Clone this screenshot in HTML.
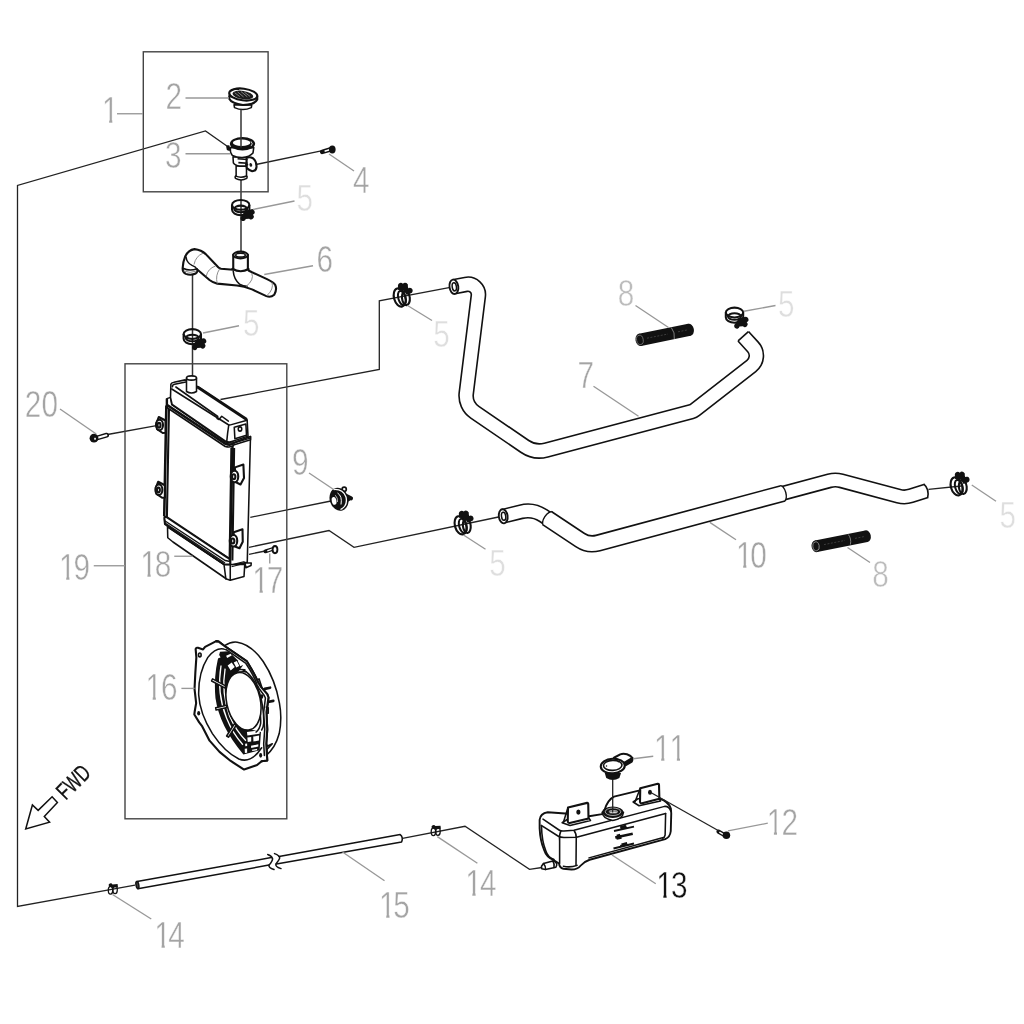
<!DOCTYPE html>
<html lang="en"><head><meta charset="utf-8"><title>Cooling system parts diagram</title>
<style>
html,body{margin:0;padding:0;background:#fff;}
body{width:1024px;height:1024px;overflow:hidden;}
svg{display:block;}
.ln{fill:none;stroke:#222;stroke-width:1.3;}
.ax{fill:none;stroke:#333;stroke-width:1.5;}
.gl{fill:none;stroke:#989898;stroke-width:1.35;}
.gl2{fill:none;stroke:#cfcfcf;stroke-width:1.1;}
.box{fill:none;stroke:#444;stroke-width:1.4;}
.p{fill:#fff;stroke:#111;stroke-width:1.55;stroke-linejoin:round;stroke-linecap:round;vector-effect:non-scaling-stroke;}
.pn{fill:none;stroke:#111;stroke-width:1.55;stroke-linejoin:round;stroke-linecap:round;vector-effect:non-scaling-stroke;}
.pt{fill:none;stroke:#111;stroke-width:0.9;stroke-linejoin:round;stroke-linecap:round;vector-effect:non-scaling-stroke;}
.pk{fill:none;stroke:#111;stroke-width:2.1;stroke-linejoin:round;stroke-linecap:round;vector-effect:non-scaling-stroke;}
.pkf{fill:#fff;stroke:#111;stroke-width:2.1;stroke-linejoin:round;stroke-linecap:round;vector-effect:non-scaling-stroke;}
.k{fill:#111;stroke:none;}
.w{fill:#fff;stroke:none;}
text{font-family:"Liberation Sans",sans-serif;}
.lb{font-size:36.4px;fill:#a4a4a4;stroke:#fff;stroke-width:0.5px;}
.lb5{font-size:36.4px;fill:#dedede;stroke:#fff;stroke-width:0.5px;}
.lb8{font-size:36.4px;fill:#bcbcbc;stroke:#fff;stroke-width:0.5px;}
.lbk{font-size:36.4px;fill:#111;stroke:#fff;stroke-width:0.4px;}
</style></head><body>
<svg width="1024" height="1024" viewBox="0 0 1024 1024">
<rect width="1024" height="1024" fill="#fff"/>
<!-- lines -->
<g>
<!-- long overflow line -->
<path class="ln" d="M229,147.5 L205.5,131 L17.5,185.5 L17.5,906.5 L135,885.2"/>
<path class="ln" d="M402.5,838.3 L465,826.3 L529.5,869.3 L542,867.5"/>
<!-- vertical axis through cap / neck / clamp / hose 6 -->
<path class="ax" d="M241,179.5 L241,251"/>
<path class="ax" d="M192.5,274.5 L192.5,378"/>
<!-- bolt 4 -->
<path class="ln" d="M256,164.5 L322.5,150.6"/>
<!-- radiator to hose 7 -->
<path class="ln" d="M220.5,399.5 L379.3,369.5 L379.3,300.8 L449,287.6"/>
<!-- bolt 20 -->
<path class="ln" d="M107.5,434.5 L156.5,425.7"/>
<!-- grommet 9 -->
<path class="ln" d="M250.3,517.3 L331,501"/>
<!-- radiator to hose 10 -->
<path class="ln" d="M249,547.3 L329,530.5 L354,547.3 L498.5,517"/>
<!-- bolt 17 -->
<path class="ln" d="M249,554.3 L265.3,551"/>
<!-- hose 10 to right clamp -->
<path class="ln" d="M928.5,489.4 L961.3,486"/>
<!-- tank cap -->
</g>
<!-- boxes -->
<g>
<rect class="box" x="143.3" y="51.8" width="124.8" height="140"/>
<rect class="box" x="125" y="363.8" width="161.8" height="455"/>
</g>
<!-- hoses -->
<g fill="none" stroke-linejoin="round">
<!-- hose 7 -->
<path d="M453.75,286.75 L465.88,284.38 A10.5,10.5 0 0 1 478.32,295.98 L466.26,393.21 A20,20 0 0 0 474.81,412.18 L524.78,446.38 A26,26 0 0 0 546.11,450.06 L691.52,411.62 A10,10 0 0 0 695.12,409.84 L751.35,365.93 A13,13 0 0 0 752.97,346.93 L743.25,336.25" stroke="#111" stroke-width="15.8"/>
<path d="M453.75,286.75 L465.88,284.38 A10.5,10.5 0 0 1 478.32,295.98 L466.26,393.21 A20,20 0 0 0 474.81,412.18 L524.78,446.38 A26,26 0 0 0 546.11,450.06 L691.52,411.62 A10,10 0 0 0 695.12,409.84 L751.35,365.93 A13,13 0 0 0 752.97,346.93 L743.25,336.25" stroke="#fff" stroke-width="12.600000000000001"/>
<path d="M738.1,340.9 L748.4,331.6" stroke="#111" stroke-width="1.6"/>
<ellipse cx="453.9" cy="286.8" rx="4.4" ry="7.2" transform="rotate(-8 453.9 286.8)" fill="#fff" stroke="#111" stroke-width="1.9"/>
<ellipse cx="454.3" cy="286.8" rx="2.1" ry="4.1" transform="rotate(-8 454.3 286.8)" fill="#fff" stroke="#111" stroke-width="1.5"/>
<!-- hose 10 -->
<path d="M503.00,516.25 L520.93,511.78 A28,28 0 0 1 543.18,515.61 L580.12,540.11 A22,22 0 0 0 597.99,543.02 L829.34,480.80 A23,23 0 0 1 841.26,480.80 L898.55,496.13 A22,22 0 0 0 910.96,495.82 L926.00,491.00" stroke="#111" stroke-width="15.2"/>
<path d="M503.00,516.25 L520.93,511.78 A28,28 0 0 1 543.18,515.61 L580.12,540.11 A22,22 0 0 0 597.99,543.02 L829.34,480.80 A23,23 0 0 1 841.26,480.80 L898.55,496.13 A22,22 0 0 0 910.96,495.82 L926.00,491.00 l1.2,-0.4" stroke="#fff" stroke-width="12.0"/>
<path d="M923.6,483.9 Q929.6,489 927.6,498" stroke="#111" stroke-width="1.6"/>
<path d="M547.00,518.10 L580.12,540.10 A22,22 0 0 0 598.00,543.02 L783.00,493.30" stroke="#111" stroke-width="17.4"/>
<path d="M547.00,518.10 L580.12,540.10 A22,22 0 0 0 598.00,543.02 L783.00,493.30" stroke="#fff" stroke-width="14.2"/>
<g transform="translate(547.6,518.5) rotate(33.5)"><path d="M0.3,-7.9 A3.6,7.9 0 0 0 0.3,7.9" fill="#fff" stroke="#111" stroke-width="1.4"/></g>
<g transform="translate(782.6,493.4) rotate(-15)"><path d="M-0.3,-7.9 A3.6,7.9 0 0 1 -0.3,7.9" fill="#fff" stroke="#111" stroke-width="1.4"/></g>
<ellipse cx="503.2" cy="516.3" rx="4.4" ry="7.1" transform="rotate(-8 503.2 516.3)" fill="#fff" stroke="#111" stroke-width="1.9"/>
<ellipse cx="503.6" cy="516.3" rx="2.1" ry="4.0" transform="rotate(-8 503.6 516.3)" fill="#fff" stroke="#111" stroke-width="1.5"/>
</g>
<!-- clamps -->
<defs>
<g id="clampA">
<ellipse cx="0" cy="-2.5" rx="8.7" ry="4.9" fill="none" stroke="#111" stroke-width="2.05"/>
<ellipse cx="0" cy="1.5" rx="6.5" ry="3.3" fill="none" stroke="#111" stroke-width="2.05"/>
<path d="M-8.7,-2.5 L-8.7,2.2 A8.7,5.6 0 0 0 8.7,2.2 L8.7,-2.5" fill="none" stroke="#111" stroke-width="2.05"/>
<path d="M4.5,3 L10,2 A2.8,2.8 0 1 1 12.2,7.3 A2.5,2.5 0 1 1 8.5,11.3 L5,11.5 A2.7,2.7 0 1 1 0.5,9 Z" fill="#111"/>
</g>
<g id="clampB">
<ellipse cx="0" cy="0" rx="5.7" ry="9.3" transform="rotate(-16)" fill="none" stroke="#111" stroke-width="2.1"/>
<ellipse cx="2.2" cy="0.6" rx="3.6" ry="7.3" transform="rotate(-16 2.2 0.6)" fill="none" stroke="#111" stroke-width="2"/>
<ellipse cx="6.2" cy="0.5" rx="3.9" ry="7.2" transform="rotate(-6 6.2 0.5)" fill="none" stroke="#111" stroke-width="2.1"/>
<path d="M-1.5,-7.5 L-1.8,-11.8 A2.9,2.9 0 0 1 3.2,-13.7 A2.9,2.9 0 0 1 8.2,-11 L8.6,-9.3 A2.9,2.9 0 1 1 10.8,-4 L7,-2.5 L4,-7 Z" fill="#111"/>
</g>
<g id="clampS">
<ellipse cx="-2.3" cy="0.4" rx="2.2" ry="3.9" fill="none" stroke="#111" stroke-width="1.3"/>
<ellipse cx="2.3" cy="0" rx="2.2" ry="3.9" fill="none" stroke="#111" stroke-width="1.3"/>
<path d="M-3.9,-3.5 A2,2 0 1 1 -0.3,-5.3 L4.8,-5.7 L5.2,-2.6 L-1,-2 Z" fill="#111"/>
</g>
</defs>
<g>
<use href="#clampA" x="240.7" y="207.4"/>
<use href="#clampA" x="192.3" y="336.5"/>
<use href="#clampA" x="734.5" y="315"/>
<use href="#clampB" x="399.7" y="297.5"/>
<use href="#clampB" x="460.6" y="525.3"/>
<use href="#clampB" x="956.6" y="486.4"/>
<use href="#clampS" x="112.8" y="889.8"/>
<use href="#clampS" x="435.7" y="831.4"/>
</g>
<!-- p23 -->
<!-- cap (2): coords in 16x zoom space, origin (216,80) -->
<g transform="translate(216,80) scale(.0625)">
<path class="p" d="M288,395 L296,442 Q430,505 565,442 L572,400 Z"/>
<path class="pkf" d="M212,255 L212,300 Q250,375 430,400 Q620,395 660,312 L660,262 Z"/>
<ellipse class="pkf" cx="436" cy="232" rx="226" ry="94" transform="rotate(7 436 232)"/>
<ellipse cx="430" cy="240" rx="168" ry="66" transform="rotate(9 430 240)" fill="#1c1c1c"/>
<path d="M300,205 L380,265 M345,190 L440,270 M400,185 L500,268 M455,195 L545,262" stroke="#8a8a8a" stroke-width="0.9" fill="none" vector-effect="non-scaling-stroke"/>
<path d="M250,170 Q300,130 360,150" class="pn"/>
</g>
<!-- filler neck (3): coords in 16x zoom space, origin (216,132) -->
<g transform="translate(216,132) scale(.0625)">
<path class="p" d="M322,540 L322,700 Q296,716 312,742 Q400,792 492,742 Q508,716 488,700 L488,545 Z"/>
<path class="pn" d="M318,706 Q400,742 490,704"/>
<path class="p" d="M272,395 L278,495 Q300,535 380,546 L480,546 L500,400 Z"/>
<path class="pkf" d="M488,412 Q540,392 592,420 Q652,470 648,560 Q640,626 580,628 Q530,612 492,575 Z"/>
<path d="M345,428 L505,440 M358,490 L505,500 M470,520 L515,524" stroke="#111" stroke-width="1.7" fill="none" vector-effect="non-scaling-stroke"/>
<ellipse cx="557" cy="526" rx="22" ry="30" transform="rotate(-15 557 526)" fill="#1c1c1c"/>
<path class="p" d="M228,250 Q222,330 262,375 Q330,412 420,410 Q540,396 592,335 L604,250 Z"/>
<path d="M163,235 Q170,205 215,215 L235,290 Q200,310 172,285 Z" fill="#111"/>
<ellipse cx="424" cy="188" rx="202" ry="107" fill="#111"/>
<ellipse cx="410" cy="172" rx="140" ry="52" fill="#fff"/>
<path d="M560,150 Q600,190 560,225" stroke="#fff" stroke-width="0.8" fill="none" vector-effect="non-scaling-stroke"/>
</g>
<path class="ax" d="M241,109.4 L241,147.5"/>
<!-- p6 -->
<!-- T-hose (6): coords in 8x zoom space, origin (172,236) -->
<g transform="translate(172,236) scale(.125)">
<path class="pkf" d="M85,258 Q84,290 110,303 Q150,318 190,300 Q204,290 202,268 L300,352 Q330,375 362,381 L520,396 Q575,402 640,427 L755,481 Q790,494 818,470 Q842,430 826,392 Q815,372 760,345 L640,290 L612,276 L607,262 L607,150 L490,150 L490,270 L392,262 Q378,258 370,250 L270,145 Q235,112 180,105 Q130,112 105,165 Q88,205 85,258 Z"/>
<ellipse class="pkf" cx="548" cy="152" rx="58" ry="27"/>
<ellipse class="pn" cx="548" cy="153" rx="38" ry="15"/>
<path class="pk" d="M483,262 Q548,300 613,264"/>
<path class="pn" d="M490,282 Q495,345 540,385 Q570,402 600,402"/>
<path class="pn" d="M112,168 Q118,215 160,235 Q190,245 202,268"/>
<path class="pn" d="M88,258 Q140,285 200,262"/>
<g fill="none" stroke="#8c8c8c" stroke-width="1" vector-effect="non-scaling-stroke">
<path vector-effect="non-scaling-stroke" d="M248,138 Q190,160 176,228"/>
<path vector-effect="non-scaling-stroke" d="M348,240 Q285,262 274,322"/>
<path vector-effect="non-scaling-stroke" d="M382,262 Q345,315 362,380"/>
<path vector-effect="non-scaling-stroke" d="M638,298 Q660,350 592,404"/>
<path vector-effect="non-scaling-stroke" d="M800,372 Q815,425 762,474"/>
<path vector-effect="non-scaling-stroke" d="M93,280 Q145,302 197,280"/>
</g>
</g>
<!-- radiator -->
<!-- radiator (18): coords in 8x zoom space, origin (144,368) -->
<g transform="translate(144,368) scale(.125)">
<!-- side plate -->
<path class="p" d="M712,600 L852,548 L826,1555 L690,1580 Z"/>
<!-- right mount tabs (behind) -->
<path class="pkf" d="M728,795 L795,772 L800,880 L772,932 L728,910 Z"/>
<path class="pkf" d="M718,1314 L788,1290 L790,1390 L764,1442 L718,1424 Z"/>
<!-- core -->
<path class="p" d="M183,290 L705,630 L690,1530 L165,1190 Z"/>
<path d="M177,300 L160,1185 M200,310 L183,1200" stroke="#111" stroke-width="2.1" fill="none" vector-effect="non-scaling-stroke"/>
<path d="M699,640 L685,1525 M721,640 L707,1540" stroke="#111" stroke-width="2.1" fill="none" vector-effect="non-scaling-stroke"/>
<!-- lower tank -->
<path class="p" d="M188,1268 L190,1358 L232,1392 L660,1688 L690,1698 L800,1668 L806,1572 L690,1572 L640,1570 Z"/>
<path class="pn" d="M190,1272 L640,1572 L655,1688 M690,1572 L690,1698"/>
<path class="p" d="M808,1560 L858,1560 L856,1580 L815,1598 Z"/>
<!-- lower header lip -->
<path class="pkf" d="M163,1205 Q160,1180 185,1195 L665,1515 Q690,1525 690,1545 L690,1572 L645,1572 L168,1250 Z"/>
<path d="M166,1222 L650,1540 L690,1548 M168,1240 L648,1560" stroke="#111" stroke-width="1.4" fill="none" vector-effect="non-scaling-stroke"/>
<path d="M700,1575 L805,1548 M700,1590 L805,1562" stroke="#111" stroke-width="1.2" fill="none" vector-effect="non-scaling-stroke"/>
<!-- upper header lip -->
<path class="p" d="M183,245 L212,235 L222,292 L655,592 L712,602 L852,548 L852,574 L722,614 Q700,640 650,628 L186,318 Z"/>
<path d="M188,298 L652,606 Q690,622 715,604" stroke="#111" stroke-width="2.7" fill="none" stroke-linecap="round" vector-effect="non-scaling-stroke"/>
<path d="M722,600 L850,561" stroke="#111" stroke-width="1.3" fill="none" vector-effect="non-scaling-stroke"/>
<path d="M183,245 L183,318" stroke="#111" stroke-width="2.4" fill="none" vector-effect="non-scaling-stroke"/>
<!-- upper tank -->
<path class="p" d="M215,130 Q218,118 240,114 L330,95 L430,150 L825,415 L832,545 L722,582 Q690,598 655,588 L225,292 L212,235 Z"/>
<path class="pn" d="M222,168 L672,452 Q682,458 692,455 L825,418 M678,456 Q668,520 662,588"/>
<path class="pn" d="M228,150 Q225,135 245,130 L335,112"/>
<path class="pn" d="M255,152 L590,388 L585,404 L600,412 L622,386 L675,425"/>
<path d="M428,152 L822,412" stroke="#111" stroke-width="3" fill="none" vector-effect="non-scaling-stroke"/>
<path class="pn" d="M722,474 L815,448 L820,538 L727,566 Z"/>
<ellipse class="pn" cx="768" cy="488" rx="14" ry="17"/>
<!-- stub -->
<path class="p" d="M340,80 L340,188 Q380,212 420,188 L420,80 Z"/>
<ellipse class="p" cx="380" cy="80" rx="40" ry="17"/>
<!-- left mounts -->
<g id="rmount">
<path class="pkf" d="M118,392 L172,420 L172,518 L150,520 L105,490 L100,440 Z"/>
<ellipse class="pkf" cx="124" cy="456" rx="28" ry="42"/>
<ellipse class="pk" cx="120" cy="458" rx="12" ry="19"/>
</g>
<use href="#rmount" x="-5" y="518" transform="scale(1)"/>
<!-- right mount grommets -->
<ellipse class="pkf" cx="724" cy="868" rx="30" ry="46"/>
<ellipse class="pk" cx="718" cy="870" rx="13" ry="20"/>
<ellipse class="pkf" cx="716" cy="1382" rx="30" ry="46"/>
<ellipse class="pk" cx="710" cy="1384" rx="13" ry="20"/>
</g>
<!-- fan -->
<!-- fan shroud (16): coords in 9.846x zoom space, origin (186,632) -->
<g transform="translate(186,632) scale(.10156)">
<!-- back ring -->
<path class="p" d="M380,135 Q440,92 505,100 Q640,120 760,290 Q880,470 920,700 Q948,850 918,1000 Q880,1140 790,1215 L600,1100 L500,300 Z"/>
<!-- right-hand studs -->
<path d="M775,560 L828,548 M805,690 L860,678" stroke="#111" stroke-width="2.6" fill="none" stroke-linecap="round" vector-effect="non-scaling-stroke"/>
<path class="p" d="M775,1180 L850,1100 L800,1125 L790,1095 Z"/>
<!-- front flange -->
<path class="pkf" d="M95,168 Q100,150 118,156 L168,172 L188,146 L298,90 L322,95 L395,150 L600,290 Q680,420 712,500 L742,545 L800,612 L812,645 L792,790 L800,960 L790,1100 L800,1265 L745,1272 L700,1310 L572,1354 L440,1270 L330,1180 L232,1070 L160,930 L130,890 L82,812 L86,780 L100,700 L84,560 L92,400 L102,250 Z"/>
<!-- opening (partial ellipse) -->
<path class="pn" d="M392,172 Q300,140 215,250 Q120,400 125,620 Q135,800 260,1000 Q380,1180 520,1250 Q640,1300 745,1140"/>
<!-- inner wall band -->
<path d="M335,195 Q268,400 290,650 Q330,930 565,1205 L725,1165 L738,985 L650,962 Q470,900 402,640 Q385,470 500,410 L560,330 L420,190 Z" fill="#111"/>
<path d="M345,330 Q300,600 400,850 Q460,1000 560,1110 M385,360 Q345,600 430,830 Q490,970 590,1070" stroke="#fff" stroke-width="1.3" fill="none" vector-effect="non-scaling-stroke"/>
<!-- top bracket checker -->
<path d="M410,330 L450,300 L480,345 L440,380 Z M470,300 L500,285 L525,335 L495,350 Z M510,285 L535,275 L560,325 L535,338 Z M395,235 L440,215 L450,232 L405,255 Z M300,240 L330,228 L340,250 L310,262 Z" fill="#fff"/>
<path class="pn" d="M430,400 Q480,360 580,372 M440,420 Q500,385 590,392"/>
<!-- bottom bracket -->
<path d="M600,985 L728,968 L724,1002 L604,1020 Z M604,1040 L642,1035 L642,1078 L608,1084 Z M662,1030 L720,1020 L718,1068 L664,1078 Z M582,1100 L602,1098 L602,1122 L584,1124 Z M578,1150 L602,1148 L602,1190 L580,1192 Z M640,1120 L712,1106 L712,1128 L642,1142 Z M650,1160 L700,1150 L700,1165 L652,1172 Z" fill="#fff"/>
<!-- motor ring right side -->
<path class="pn" d="M520,398 Q620,420 690,600 Q740,760 735,900 Q725,960 690,985 M560,372 Q660,420 725,600 Q770,760 765,900 Q762,940 745,965"/>
<!-- spokes -->
<path class="p" d="M262,462 L390,530 L382,550 L252,482 Z"/>
<path class="p" d="M292,745 L400,722 L404,744 L296,768 Z"/>
<path class="p" d="M476,905 L494,918 L418,1036 L400,1024 Z"/>
<!-- central hole -->
<ellipse class="p" cx="566" cy="682" rx="166" ry="288" transform="rotate(-12 566 682)"/>
<!-- flange right edge on top -->
<path fill="#fff" d="M298,90 L322,95 L395,150 L600,290 Q680,420 712,500 L742,545 L800,612 L812,645 L792,790 L800,960 L790,1100 L800,1265 L772,1268 L765,1100 L775,960 L765,790 L782,650 L770,625 L722,560 L700,520 Q670,430 590,310 L400,180 Z"/>
<path class="pk" d="M298,90 L322,95 L395,150 L600,290 Q680,420 712,500 L742,545 L800,612 L812,645 L792,790 L800,960 L790,1100 L800,1265 L745,1272"/>
<path class="pn" d="M392,172 L590,310 Q670,430 700,520 L722,560 L770,625 L782,650 L765,790 L775,960 L765,1100 L772,1215"/>
<path class="pn" d="M700,470 L720,462 L745,540 M790,740 L810,745 L810,800 L795,800"/>
<!-- holes -->
<ellipse cx="136" cy="226" rx="13" ry="19" fill="#fff" stroke="#111" stroke-width="1.6" vector-effect="non-scaling-stroke"/>
<ellipse cx="746" cy="636" rx="15" ry="23" fill="#111"/>
<ellipse cx="125" cy="800" rx="15" ry="23" fill="#111"/>
<ellipse cx="735" cy="1214" rx="15" ry="23" fill="#111"/>
</g>
<!-- small -->
<!-- bolt 4 -->
<g>
<path d="M322.2,151.9 L331,149.3" stroke="#111" stroke-width="4.6" stroke-linecap="round" fill="none"/>
<path d="M324.6,151.2 L331,149.3" stroke="#fff" stroke-width="1.6" fill="none"/>
<ellipse cx="332.3" cy="149.6" rx="3.3" ry="4" fill="#111"/>
</g>
<!-- bolt 20 -->
<g>
<path d="M97,438 L106.6,435.1" stroke="#111" stroke-width="4.8" stroke-linecap="round" fill="none"/>
<path d="M97,438 L106.4,435.2" stroke="#fff" stroke-width="2" stroke-linecap="round" fill="none"/>
<circle cx="94" cy="438.2" r="4.4" fill="#111"/>
<rect x="94.1" y="437.8" width="1.9" height="1.9" fill="#ddd"/>
</g>
<!-- bolt 17 -->
<g>
<path d="M265.4,551.4 L272,549.2" stroke="#111" stroke-width="3.8" stroke-linecap="round" fill="none"/>
<path d="M267.3,550.8 L273,548.9" stroke="#fff" stroke-width="1.3" fill="none"/>
<ellipse cx="275" cy="549.6" rx="2.4" ry="3.6" fill="#fff" stroke="#111" stroke-width="1.9"/>
</g>
<!-- bolt 12 -->
<g>
<path d="M718.5,831.6 L724,834.8" stroke="#111" stroke-width="4.2" stroke-linecap="round" fill="none"/>
<path d="M719.8,832.3 L724,834.8" stroke="#fff" stroke-width="1.4" stroke-linecap="round" fill="none"/>
<circle cx="726.4" cy="835.3" r="3.8" fill="#111"/>
</g>
<!-- grommet 9 -->
<g>
<circle cx="344.2" cy="489.3" r="2.1" fill="#fff" stroke="#111" stroke-width="1.7"/>
<path d="M345,493 L351.5,496.3 A2,2 0 1 1 350.5,500.3 L346,503 Z" fill="#111"/>
<ellipse cx="339" cy="499.2" rx="9.3" ry="11.7" transform="rotate(-17 339 499.2)" fill="#111"/>
<path d="M334,489.5 Q343,489 346,497 Q348,506 340.5,509.5" fill="none" stroke="#fff" stroke-width="1.3"/>
<path d="M337.5,493 Q342.5,496 341,504.5" fill="none" stroke="#fff" stroke-width="1"/>
<path d="M335.3,495.2 Q338,498 337.5,502" fill="none" stroke="#ddd" stroke-width="0.8"/>
<ellipse cx="334.1" cy="500.9" rx="2.3" ry="3.9" transform="rotate(-12 334.1 500.9)" fill="#fff"/>
</g>
<!-- hose pieces 8 -->
<g>
<path d="M640,339.9 L689.4,329.8" stroke="#111" stroke-width="12.3" fill="none"/>
<ellipse cx="640" cy="339.9" rx="4.5" ry="6.15" transform="rotate(-11 640 339.9)" fill="#111"/>
<ellipse cx="689.4" cy="329.8" rx="4.5" ry="6.15" transform="rotate(-11 689.4 329.8)" fill="#111"/>
<ellipse cx="639.9" cy="339.9" rx="3.3" ry="4.7" transform="rotate(-11 639.9 339.9)" fill="none" stroke="#777" stroke-width="0.8"/>
<path d="M671.3,327.6 Q675.2,332.5 674.3,339" stroke="#8a8a8a" stroke-width="0.9" fill="none"/>
<path d="M647,338.2 L668,334 M678,331.8 L688,329.8" stroke="#3c3c3c" stroke-width="1" stroke-dasharray="2 1.5" fill="none"/>
<path d="M816,546.3 L866.4,536.2" stroke="#111" stroke-width="11.8" fill="none"/>
<ellipse cx="816" cy="546.3" rx="4.4" ry="5.9" transform="rotate(-11 816 546.3)" fill="#111"/>
<ellipse cx="866.4" cy="536.2" rx="4.4" ry="5.9" transform="rotate(-11 866.4 536.2)" fill="#111"/>
<ellipse cx="816" cy="546.3" rx="3.2" ry="4.5" transform="rotate(-11 816 546.3)" fill="none" stroke="#8a8a8a" stroke-width="0.9"/>
<path d="M848.3,534.5 Q851.6,538.5 850.4,544.6" stroke="#8a8a8a" stroke-width="0.9" fill="none"/>
<path d="M824,544.6 L845,540.4 M855,538.4 L865,536.4" stroke="#3c3c3c" stroke-width="1" stroke-dasharray="2 1.5" fill="none"/>
</g>
<!-- tank -->
<!-- reservoir tank (13) + cap (11): coords in 8x zoom space, origin (534,776) -->
<g transform="translate(534,776) scale(.125)">
<!-- body silhouette -->
<path class="p" style="stroke-width:1.9" d="M45,350 Q50,300 110,290 L250,300 L440,322 L545,305 L565,270 Q590,190 640,165 L838,117 L1008,182 Q1075,205 1095,260 L1098,300 L1094,442 Q1088,490 1050,505 L445,670 Q400,685 372,718 Q350,748 300,748 L235,742 Q205,735 200,700 L150,668 Q100,650 80,590 Q50,520 45,420 Z"/>
<!-- top/front chamfer lines -->
<path class="pn" d="M72,345 L200,432 Q215,442 240,440 L320,434 L1045,243 Q1080,240 1094,280"/>
<path class="pn" d="M58,395 L195,482 Q210,492 240,492 L340,490 L1053,300"/>
<path class="pn" d="M215,440 Q200,470 205,520 L205,700 M320,436 Q340,460 338,500 L336,715"/>
<path class="pn" d="M1053,300 L1049,472 Q1045,492 1030,498 M440,655 L1035,492"/>
<path class="pn" d="M60,400 Q62,520 95,600 Q110,650 160,668"/>
<path class="pn" d="M235,722 Q290,735 345,715"/>
<!-- nipple -->
<path class="p" d="M60,722 L76,700 L150,680 Q185,690 182,712 L175,730 L92,748 L62,742 Z"/>
<path class="pn" d="M76,700 Q95,722 92,748 M150,680 Q165,700 160,732"/>
<!-- left bracket -->
<path class="p" d="M225,374 L262,350 L440,338 L452,356 L288,396 Z"/>
<path class="pkf" d="M272,252 L425,215 Q434,214 434,225 L436,340 L286,376 Q270,378 270,360 Z"/>
<path class="pn" d="M270,258 L236,368"/>
<ellipse cx="355" cy="288" rx="17" ry="21" fill="#111"/>
<!-- right bracket -->
<path class="p" d="M793,208 L832,182 L1000,178 L1012,200 L840,238 Z"/>
<path class="pkf" d="M850,98 L990,62 Q1000,60 1000,72 L1003,182 L865,218 Q848,220 848,204 Z"/>
<path class="pn" d="M848,104 L808,206"/>
<ellipse cx="928" cy="130" rx="16" ry="20" fill="#111"/>
<!-- filler neck -->
<path class="p" d="M545,290 Q548,340 630,356 Q710,345 716,290 Z"/>
<ellipse cx="630" cy="290" rx="86" ry="46" fill="#111"/>
<ellipse cx="632" cy="286" rx="62" ry="30" fill="none" stroke="#ddd" stroke-width="0.7" vector-effect="non-scaling-stroke"/>
<ellipse cx="634" cy="285" rx="36" ry="13" fill="#e8e8e8"/>
<ellipse cx="634" cy="290" rx="34" ry="10" fill="none" stroke="#555" stroke-width="0.9" vector-effect="non-scaling-stroke"/>
<!-- level marks -->
<path d="M640,440 L800,405 M690,415 L740,404 M690,408 L735,398" stroke="#111" stroke-width="1.8" fill="none" vector-effect="non-scaling-stroke"/>
<path d="M650,492 L790,462 M660,500 L700,492 M662,480 L690,472" stroke="#111" stroke-width="2.6" fill="none" vector-effect="non-scaling-stroke"/>
<path d="M636,580 L800,540 M690,560 L745,547 M700,548 L745,536" stroke="#111" stroke-width="2.2" fill="none" vector-effect="non-scaling-stroke"/>
<!-- cap 11 -->
<path d="M787.7,-144 Q792,-128 784,-114 L732,-84 L718,-104 Z" fill="#111" stroke="#111" stroke-width="1.5" stroke-linejoin="round" vector-effect="non-scaling-stroke"/>
<path class="pkf" d="M640,-146 L690,-173 Q712,-182 744,-174 Q775,-164 787.7,-144 L718,-103 Z"/>
<path d="M566,-24 L578,15 Q630,48 683,15 L696,-24 Z" fill="#111"/>
<ellipse class="pkf" cx="630" cy="-80" rx="96" ry="58" transform="rotate(-3 630 -80)"/>
<ellipse class="pn" cx="630" cy="-85" rx="74" ry="40" transform="rotate(-3 630 -85)"/>
<circle cx="580" cy="-81" r="6" fill="#111"/><circle cx="674" cy="-114" r="5" fill="#111"/>
</g>
<path class="ln" d="M612.7,780 L612.7,812.5"/>
<path class="ln" d="M650.8,792.5 L719.5,831.3"/>
<!-- tube15 -->
<g fill="none" stroke="#111" stroke-width="1.5" stroke-linecap="round" stroke-linejoin="round">
<path d="M137,881.4 L271.2,857.6 M137.8,888.7 L268.9,865.1"/>
<ellipse cx="137.4" cy="885" rx="1.4" ry="3.6" transform="rotate(-10 137.4 885)" fill="#444"/>
<path d="M267.7,854.5 Q271.5,855.5 272.6,858.75 Q272.6,861 268.9,865.3 Q268.5,867.5 274,869.5"/>
<path d="M274.5,853.6 Q279.5,855.5 279.7,857.8 Q279.5,859.5 275.9,863.9 Q275,866.5 281,868.6"/>
<path d="M279,856.4 L400.2,834.6 Q403.5,837 401.6,842 L276.4,864.1"/>
</g>
<!-- fwd -->
<g>
<path d="M25.7,829 L32.4,805 L38.15,810.35 L52.1,796.8 L57.4,802.6 L44.3,816.5 L49.6,822.2 Z" fill="#fff" stroke="#111" stroke-width="1.5" stroke-linejoin="miter"/>
</g>
<!-- labels -->
<defs><clipPath id="c1"><path d="M0,-35 H26 V-3.9 H12.7 V1 H8.9 V-3.9 H0 Z"/></clipPath></defs>
<g>
<path class="gl" d="M117,113.75 L143,113.75"/>
<path class="gl" d="M185.5,98 L229,98"/>
<path class="gl" d="M185.5,153.7 L230,153.7"/>
<path class="gl" d="M329,154 L354,171"/>
<path class="gl" d="M253,209.5 L294.5,201"/>
<path class="gl" d="M203,333 L239,325.75"/>
<path class="gl" d="M264.25,274.5 L313,265.75"/>
<path class="gl" d="M407.5,305.5 L432,320.5"/>
<path class="gl" d="M593.5,386.25 L638.5,416.25"/>
<path class="gl" d="M635.5,305.5 L668.5,327.5"/>
<path class="gl" d="M744,311.25 L775.5,305.5"/>
<path class="gl" d="M971.75,485 L996,501.25"/>
<path class="gl" d="M847.5,547.5 L870,562.5"/>
<path class="gl" d="M463.5,535 L485.5,549.25"/>
<path class="gl" d="M309,473 L334,489.75"/>
<path class="gl" d="M709.8,522.4 L736,539.8"/>
<path class="gl" d="M633.25,758.75 L653.25,756.25"/>
<path class="gl" d="M728,830.9 L767.8,823.2"/>
<path class="gl" d="M612,855 L655.75,883.75"/>
<path class="gl" d="M112.5,894.5 L151.25,919"/>
<path class="gl" d="M437.3,836.6 L477.4,863.3"/>
<path class="gl" d="M342.5,852 L384.5,880.75"/>
<path class="gl" d="M181.4,688.4 L194.6,688.4"/>
<path class="gl" d="M269.75,553.5 L269.75,563.5"/>
<path class="gl" d="M174.25,556.25 L192.5,556.25"/>
<path class="gl" d="M93.75,565.75 L125,565.75"/>
<path class="gl" d="M60,409 L96.25,434"/>
</g>
<g style="opacity:0.999">
<text class="lb" transform="translate(101.90,122.5) scale(0.817,1)" clip-path="url(#c1)">1</text>
<text class="lb" transform="translate(165.46,108.6) scale(0.817,1)">2</text>
<text class="lb" transform="translate(164.90,167.9) scale(0.817,1)">3</text>
<text class="lb" transform="translate(353.05,192.9) scale(0.817,1)">4</text>
<text class="lb5" transform="translate(296.50,211) scale(0.817,1)">5</text>
<text class="lb5" transform="translate(242.95,335.6) scale(0.817,1)">5</text>
<text class="lb" transform="translate(316.49,271.5) scale(0.817,1)">6</text>
<text class="lb5" transform="translate(433.35,346.9) scale(0.817,1)">5</text>
<text class="lb" transform="translate(577.51,388.1) scale(0.817,1)">7</text>
<text class="lb8" transform="translate(617.75,306) scale(0.817,1)">8</text>
<text class="lb5" transform="translate(777.93,316.8) scale(0.817,1)">5</text>
<text class="lb5" transform="translate(999.45,528.1) scale(0.817,1)">5</text>
<text class="lb8" transform="translate(872.25,586.6) scale(0.817,1)">8</text>
<text class="lb5" transform="translate(489.20,575.6) scale(0.817,1)">5</text>
<text class="lb" transform="translate(292.00,474.5) scale(0.817,1)">9</text>
<text class="lb" transform="translate(735.95,567.5) scale(0.817,1)" clip-path="url(#c1)">1</text>
<text class="lb" transform="translate(750.29,567.5) scale(0.817,1)">0</text>
<text class="lb" transform="translate(653.95,761) scale(0.817,1)" clip-path="url(#c1)">1</text>
<text class="lb" transform="translate(669.61,761) scale(0.817,1)" clip-path="url(#c1)">1</text>
<text class="lb" transform="translate(766.65,835.1) scale(0.817,1)" clip-path="url(#c1)">1</text>
<text class="lb" transform="translate(781.55,835.1) scale(0.817,1)">2</text>
<text class="lbk" transform="translate(656.15,898.3) scale(0.817,1)" clip-path="url(#c1)">1</text>
<text class="lbk" transform="translate(671.07,898.3) scale(0.817,1)">3</text>
<text class="lb" transform="translate(154.35,948.4) scale(0.817,1)" clip-path="url(#c1)">1</text>
<text class="lb" transform="translate(168.22,948.4) scale(0.817,1)">4</text>
<text class="lb" transform="translate(465.15,895.5) scale(0.817,1)" clip-path="url(#c1)">1</text>
<text class="lb" transform="translate(480.12,895.5) scale(0.817,1)">4</text>
<text class="lb" transform="translate(379.05,917.6) scale(0.817,1)" clip-path="url(#c1)">1</text>
<text class="lb" transform="translate(393.28,917.6) scale(0.817,1)">5</text>
<text class="lb" transform="translate(145.45,699.6) scale(0.817,1)" clip-path="url(#c1)">1</text>
<text class="lb" transform="translate(161.07,699.6) scale(0.817,1)">6</text>
<text class="lb" transform="translate(252.35,592.6) scale(0.817,1)" clip-path="url(#c1)">1</text>
<text class="lb" transform="translate(266.75,592.6) scale(0.817,1)">7</text>
<text class="lb" transform="translate(140.25,577.3) scale(0.817,1)" clip-path="url(#c1)">1</text>
<text class="lb" transform="translate(154.77,577.3) scale(0.817,1)">8</text>
<text class="lb" transform="translate(59.00,580.3) scale(0.817,1)" clip-path="url(#c1)">1</text>
<text class="lb" transform="translate(73.61,580.3) scale(0.817,1)">9</text>
<text class="lb" transform="translate(24.72,417.3) scale(0.817,1)">2</text>
<text class="lb" transform="translate(41.59,417.3) scale(0.817,1)">0</text>
<text transform="translate(65.7,800.75) rotate(-45) scale(0.70,1)" font-size="23.4" fill="#111" stroke="#111" stroke-width="0.35">FWD</text>
</g>
</svg>
</body></html>
